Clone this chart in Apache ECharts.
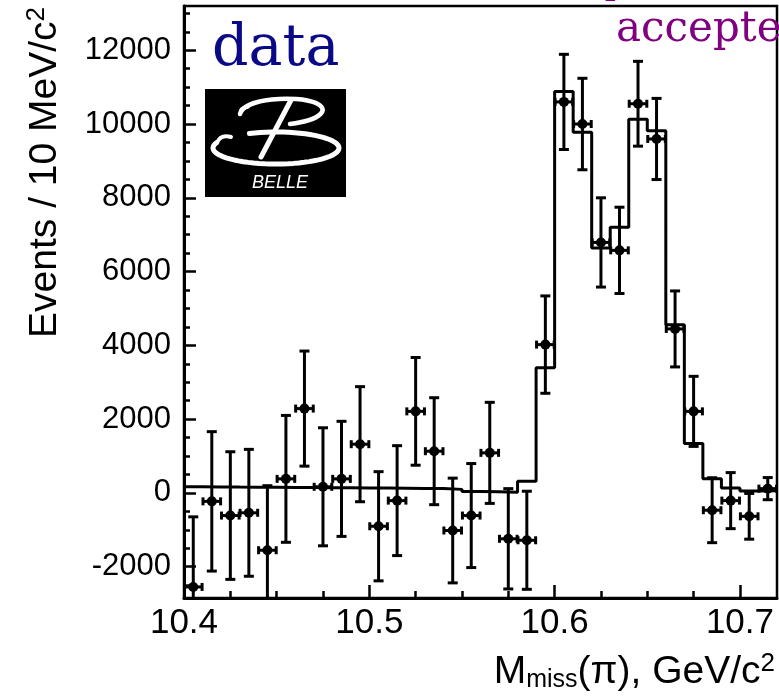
<!DOCTYPE html>
<html>
<head>
<meta charset="utf-8">
<script src="https://cdn.jsdelivr.net/npm/echarts@6/dist/echarts.min.js"></script>
<style>
  html, body { margin: 0; padding: 0; background: #fff; }
  #chart { width: 779px; height: 699px; }
</style>
</head>
<body>
<div id="chart"></div>
<script>
// Missing-mass bin centres (GeV/c^2), 10 MeV bins
const massBins = [10.405, 10.415, 10.425, 10.435, 10.445, 10.455, 10.465, 10.475,
                  10.485, 10.495, 10.505, 10.515, 10.525, 10.535, 10.545, 10.555,
                  10.565, 10.575, 10.585, 10.595, 10.605, 10.615, 10.625, 10.635,
                  10.645, 10.655, 10.665, 10.675, 10.685, 10.695, 10.705, 10.715];
// Measured yield per bin and its uncertainty
const dataEvents = [-2550, -230, -615, -540, -1555, 380, 2285, 165,
                    380, 1320, -905, -210, 2210, 1130, -1020, -615,
                    1085, -1245, -1285, 4020, 10600, 10000, 6790, 6575,
                    10550, 9595, 4445, 2210, -470, -210, -635, 115];
const dataErrors = [1900, 1890, 1730, 1720, 1750, 1720, 1560, 1600,
                    1560, 1560, 1480, 1490, 1460, 1450, 1420, 1410,
                    1370, 1360, 1330, 1320, 1290, 1240, 1210, 1170,
                    1150, 1100, 1030, 950, 880, 760, 620, 300];
// Fit result (background + signal), one value per bin
const fitEvents = [165, 162, 158, 155, 152, 148, 145, 142,
                   138, 134, 130, 126, 122, 118, 95, 40,
                   30, 20, 315, 3390, 10880, 9780, 6640, 7200,
                   10130, 9820, 4560, 1340, 380, 135, 50, 60];
const binHalfWidth = 0.005;

// Axis ticks
const xMajorTicks = [10.4, 10.5, 10.6, 10.7];
const xMinorTicks = [10.425, 10.45, 10.475, 10.525, 10.55, 10.575, 10.625, 10.65, 10.675, 10.7];
const yMajorTicks = [-2000, 0, 2000, 4000, 6000, 8000, 10000, 12000];
const yMinorTicks = [-2500, -2000, -1500, -1000, -500, 0, 500, 1000, 1500, 2000, 2500, 3000, 3500,
                     4000, 4500, 5000, 5500, 6000, 6500, 7000, 7500, 8000, 8500, 9000, 9500,
                     10000, 10500, 11000, 11500, 12000, 12500, 13000];

const xRange = [10.4, 10.72];
const yRange = [-2850, 13200];

// Step histogram points at bin lower edges, closed at the upper edge of the last bin
const fitSteps = massBins.map((m, i) => [+(m - binHalfWidth).toFixed(3), fitEvents[i]]);
fitSteps.push([+(massBins[massBins.length - 1] + binHalfWidth).toFixed(3), fitEvents[fitEvents.length - 1]]);

const pointData = massBins.map((m, i) => [m, dataEvents[i], dataErrors[i]]);

const chart = echarts.init(document.getElementById('chart'), null, { renderer: 'canvas' });
const axisFont = 'Liberation Sans';
const ink = '#000';

function errorBar(params, api) {
  const x = api.value(0), y = api.value(1), e = api.value(2);
  const c = api.coord([x, y]);
  const top = api.coord([x, y + e]);
  const bot = api.coord([x, y - e]);
  const l = api.coord([x - binHalfWidth * 0.95, y]);
  const r = api.coord([x + binHalfWidth * 0.95, y]);
  const st = { stroke: ink, lineWidth: 3, fill: null };
  return {
    type: 'group',
    children: [
      { type: 'line', shape: { x1: c[0], y1: top[1], x2: c[0], y2: bot[1] }, style: st },
      { type: 'line', shape: { x1: c[0] - 5, y1: top[1], x2: c[0] + 5, y2: top[1] }, style: st },
      { type: 'line', shape: { x1: c[0] - 5, y1: bot[1], x2: c[0] + 5, y2: bot[1] }, style: st },
      { type: 'line', shape: { x1: l[0], y1: c[1], x2: r[0], y2: c[1] }, style: st },
      { type: 'line', shape: { x1: l[0], y1: c[1] - 4, x2: l[0], y2: c[1] + 4 }, style: st },
      { type: 'line', shape: { x1: r[0], y1: c[1] - 4, x2: r[0], y2: c[1] + 4 }, style: st },
      { type: 'circle', shape: { cx: c[0], cy: c[1], r: 5 }, style: { fill: ink } }
    ]
  };
}

// Points along an elliptical arc (angles in degrees, screen orientation)
function ellipseArc(cx, cy, rx, ry, fromDeg, toDeg, steps) {
  const pts = [];
  for (let i = 0; i <= steps; i++) {
    const a = (fromDeg + (toDeg - fromDeg) * i / steps) * Math.PI / 180;
    pts.push([cx + rx * Math.cos(a), cy + ry * Math.sin(a)]);
  }
  return pts;
}
const logoStroke = w => ({ stroke: '#fff', lineWidth: w, fill: null, lineCap: 'round', lineJoin: 'round' });

const option = {
  animation: false,
  backgroundColor: '#fff',
  grid: {
    left: 184, top: 6, width: 593, height: 592,
    show: true, borderColor: ink, borderWidth: 2.5, backgroundColor: 'transparent'
  },
  xAxis: [
    {
      type: 'value', min: xRange[0], max: xRange[1], position: 'bottom',
      axisLine: { show: true, onZero: false, lineStyle: { color: ink, width: 3 } },
      axisTick: { show: true, inside: true, length: 13, customValues: xMajorTicks, lineStyle: { color: ink, width: 2.5 } },
      axisLabel: { show: true, customValues: xMajorTicks, margin: 8, color: ink, fontSize: 35, fontFamily: axisFont,
                   formatter: v => v.toFixed(1) },
      splitLine: { show: false }
    },
    {
      type: 'value', min: xRange[0], max: xRange[1], position: 'bottom',
      axisLine: { show: false, onZero: false },
      axisTick: { show: true, inside: true, length: 7, customValues: xMinorTicks, lineStyle: { color: ink, width: 2.5 } },
      axisLabel: { show: false },
      splitLine: { show: false }
    }
  ],
  yAxis: [
    {
      type: 'value', min: yRange[0], max: yRange[1], position: 'left',
      axisLine: { show: true, onZero: false, lineStyle: { color: ink, width: 3 } },
      axisTick: { show: true, inside: true, length: 12, customValues: yMajorTicks, lineStyle: { color: ink, width: 2.5 } },
      axisLabel: { show: true, customValues: yMajorTicks, margin: 13, color: ink, fontSize: 31, fontFamily: axisFont,
                   formatter: v => String(Math.round(v)) },
      splitLine: { show: false }
    },
    {
      type: 'value', min: yRange[0], max: yRange[1], position: 'left',
      axisLine: { show: false, onZero: false },
      axisTick: { show: true, inside: true, length: 6, customValues: yMinorTicks, lineStyle: { color: ink, width: 2.5 } },
      axisLabel: { show: false },
      splitLine: { show: false }
    }
  ],
  series: [
    {
      type: 'line', name: 'fit', xAxisIndex: 0, yAxisIndex: 0,
      data: fitSteps, step: 'end', showSymbol: false, symbol: 'none', clip: true,
      lineStyle: { color: ink, width: 3 }, z: 2
    },
    {
      type: 'custom', name: 'data', xAxisIndex: 0, yAxisIndex: 0,
      data: pointData, renderItem: errorBar, clip: true, z: 3
    }
  ],
  graphic: [
    // Data label
    { type: 'text', x: 212, y: 50, z: 10,
      style: { text: 'data', fontSize: 57, fontFamily: 'DejaVu Serif', fill: '#0a0a86', align: 'left', verticalAlign: 'middle' } },
    // Selection label
    { type: 'text', x: 616, y: 30, z: 10,
      style: { text: 'accepted', fontSize: 42, fontFamily: 'DejaVu Serif', fill: '#800080', align: 'left', verticalAlign: 'middle' } },
    { type: 'text', x: 602, y: -16, z: 10,
      style: { text: '[', fontSize: 42, fontFamily: 'DejaVu Serif', fill: '#800080', align: 'left', verticalAlign: 'middle' } },
    // Belle logo
    { type: 'group', z: 10, children: [
      { type: 'rect', shape: { x: 205, y: 89, width: 141, height: 108 }, style: { fill: '#000' } },
      { type: 'polyline', shape: { points: ellipseArc(276, 148, 63, 16, 200, -115, 60) }, style: logoStroke(5) },
      { type: 'bezierCurve', shape: { x1: 217, y1: 142.5, cpx1: 221, cpy1: 134, x2: 231, y2: 137 }, style: logoStroke(4) },
      { type: 'bezierCurve', shape: { x1: 240, y1: 114, cpx1: 244, cpy1: 98, cpx2: 296, cpy2: 95, x2: 316, y2: 103 }, style: logoStroke(4.5) },
      { type: 'bezierCurve', shape: { x1: 316, y1: 103, cpx1: 330, cpy1: 109, cpx2: 322, cpy2: 120, x2: 290, y2: 124 }, style: logoStroke(4.5) },
      { type: 'bezierCurve', shape: { x1: 240, y1: 114, cpx1: 240, cpy1: 107, x2: 248, y2: 107 }, style: logoStroke(3.5) },
      { type: 'line', shape: { x1: 291, y1: 100, x2: 261, y2: 157 }, style: logoStroke(5) },
      { type: 'text', x: 280, y: 183,
        style: { text: 'BELLE', fontSize: 18, fontStyle: 'italic', fontFamily: axisFont, fill: '#fff', align: 'center', verticalAlign: 'middle' } }
    ] },
    // Y axis title
    { type: 'text', x: 45, y: 7, rotation: Math.PI / 2, z: 10,
      style: {
        text: 'Events / 10 MeV/c{p|2}', fontSize: 39, fontFamily: axisFont, fill: ink,
        align: 'right', verticalAlign: 'middle', lineHeight: 42,
        rich: { p: { fontSize: 26, fontFamily: axisFont, lineHeight: 8, verticalAlign: 'top', fill: ink } }
      } },
    // X axis title
    { type: 'text', x: 775, y: 672, z: 10,
      style: {
        text: 'M{s|miss}(π), GeV/c{p|2}', fontSize: 39, fontFamily: axisFont, fill: ink,
        align: 'right', verticalAlign: 'middle', lineHeight: 42,
        rich: {
          s: { fontSize: 25, fontFamily: axisFont, lineHeight: 10, verticalAlign: 'bottom', fill: ink },
          p: { fontSize: 26, fontFamily: axisFont, lineHeight: 8, verticalAlign: 'top', fill: ink }
        }
      } }
  ]
};

chart.setOption(option);
</script>
</body>
</html>
